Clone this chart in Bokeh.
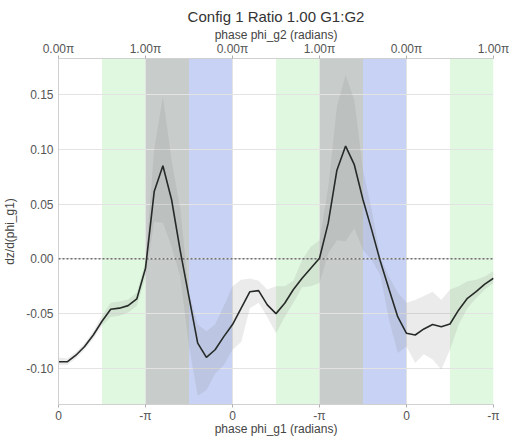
import numpy as np
from bokeh.plotting import figure
from bokeh.models import (LinearAxis, Range1d, FixedTicker, Span, BoxAnnotation, ColumnDataSource,
                          Title, Grid, CustomJSTickFormatter)
from bokeh.embed import file_html
from bokeh.resources import INLINE

# x positions in units of pi (0 .. 5), step 0.1
x_vals = [i / 10 for i in range(51)]
mean_vals = [-0.094, -0.094, -0.088, -0.080, -0.0695, -0.057, -0.046, -0.045, -0.0427, -0.0366,
             -0.0085, 0.0615, 0.085, 0.054, 0.007, -0.035, -0.077, -0.090, -0.083, -0.071,
             -0.060, -0.045, -0.030, -0.029, -0.042, -0.050, -0.0405, -0.028, -0.0177, -0.0085,
             0.0006, 0.0326, 0.081, 0.103, 0.086, 0.054, 0.0265, -0.0025, -0.028, -0.053,
             -0.068, -0.0695, -0.064, -0.060, -0.062, -0.0595, -0.0466, -0.036, -0.030, -0.023,
             -0.0177]
upper_vals = [-0.090, -0.091, -0.085, -0.077, -0.066, -0.052, -0.040, -0.039, -0.037, -0.031,
              -0.0025, 0.100, 0.148, 0.090, 0.045, -0.031, -0.060, -0.066, -0.060, -0.043,
              -0.025, -0.019, -0.018, -0.020, -0.028, -0.025, -0.025, -0.020, -0.001, 0.011,
              0.017, 0.065, 0.139, 0.168, 0.145, 0.081, 0.045, 0.002, -0.0165, -0.031,
              -0.040, -0.0375, -0.034, -0.030, -0.0375, -0.028, -0.025, -0.0205, -0.019, -0.016,
              -0.011]
lower_vals = [-0.097, -0.097, -0.091, -0.083, -0.073, -0.061, -0.053, -0.052, -0.049, -0.043,
              -0.017, 0.034, 0.033, 0.011, -0.016, -0.080, -0.125, -0.120, -0.105, -0.097,
              -0.083, -0.076, -0.045, -0.040, -0.053, -0.068, -0.053, -0.040, -0.026, -0.025,
              -0.022, 0.005, 0.017, 0.016, 0.028, 0.008, -0.001, -0.015, -0.056, -0.086,
              -0.080, -0.095, -0.087, -0.092, -0.101, -0.083, -0.060, -0.045, -0.036, -0.028,
              -0.022]

bottom_ticks = [0, 1, 2, 3, 4, 5]
bottom_labels = ["0", "-π", "0", "-π", "0", "-π"]
top_labels = ["0.00π", "1.00π", "0.00π", "1.00π", "0.00π", "1.00π"]
y_ticks = [-0.10, -0.05, 0.0, 0.05, 0.10, 0.15]

# shaded phase regions: (start, end, colour)
regions = [(0.5, 1.0, "#e0f8e0"), (1.0, 1.5, "#c8cccb"), (1.5, 2.0, "#c8d2f5"),
           (2.5, 3.0, "#e0f8e0"), (3.0, 3.5, "#c8cccb"), (3.5, 4.0, "#c8d2f5"),
           (4.5, 5.0, "#e0f8e0")]

FONT = "Liberation Sans"

p = figure(frame_width=435, frame_height=346, output_backend="svg", toolbar_location=None,
           x_range=Range1d(0, 5), y_range=Range1d(-0.133, 0.183),
           min_border_left=0, min_border_right=16, min_border_top=0, min_border_bottom=0,
           x_axis_location=None, y_axis_location=None)
p.outline_line_color = None
p.background_fill_color = "white"

for (a, b, c) in regions:
    p.add_layout(BoxAnnotation(left=a, right=b, fill_color=c, fill_alpha=1.0,
                               line_color=None, level="underlay"))

src = ColumnDataSource(dict(x=x_vals, m=mean_vals, u=upper_vals, l=lower_vals))
p.varea(x="x", y1="l", y2="u", source=src, fill_color="#808080", fill_alpha=0.16)
p.line(x="x", y="m", source=src, line_color="#262b28", line_width=1.6)

p.add_layout(Span(location=0, dimension="width", line_color="#333333",
                  line_dash="2 2", line_width=1))

# axes
xb = LinearAxis(ticker=FixedTicker(ticks=bottom_ticks),
                major_label_overrides={t: l for t, l in zip(bottom_ticks, bottom_labels)},
                axis_label="phase phi_g1 (radians)")
xt = LinearAxis(ticker=FixedTicker(ticks=bottom_ticks),
                major_label_overrides={t: l for t, l in zip(bottom_ticks, top_labels)},
                axis_label="phase phi_g2 (radians)")
yl = LinearAxis(ticker=FixedTicker(ticks=y_ticks), axis_label="dz/d(phi_g1)")
yl.formatter = CustomJSTickFormatter(code="return tick.toFixed(2);")

for ax in (xb, xt, yl):
    ax.axis_line_color = "#d0d0d0"
    ax.major_tick_line_color = "#b0b0b0"
    ax.minor_tick_line_color = None
    ax.major_tick_in = 0
    ax.major_tick_out = 3
    ax.major_label_text_font = FONT
    ax.major_label_text_font_size = "12px"
    ax.major_label_text_color = "#555555"
    ax.axis_label_text_font = FONT
    ax.axis_label_text_font_size = "12px"
    ax.axis_label_text_font_style = "normal"
    ax.axis_label_text_color = "#444444"
xt.major_label_standoff = 0
xt.axis_label_standoff = -3
xb.major_label_standoff = 1
xb.axis_label_standoff = -4
yl.major_tick_out = 0
yl.major_label_standoff = 5
yl.axis_label_standoff = 6

p.add_layout(xb, "below")
p.add_layout(xt, "above")
p.add_layout(yl, "left")

p.add_layout(Title(text="Config 1 Ratio 1.00 G1:G2", align="center", text_font=FONT,
                   text_font_size="15px", text_font_style="normal", text_color="#333333",
                   standoff=0), "above")
# spacer above the title
p.add_layout(Title(text=" ", text_font_size="3px", standoff=0), "above")

p.xgrid.visible = False
p.ygrid.visible = False
p.add_layout(Grid(dimension=1, ticker=yl.ticker, grid_line_color="#e3e3e3", grid_line_width=1))
p.add_layout(Grid(dimension=0, ticker=xb.ticker, grid_line_color="#e3e3e3", grid_line_width=1))

open("out.html", "w").write(file_html(p, INLINE))
